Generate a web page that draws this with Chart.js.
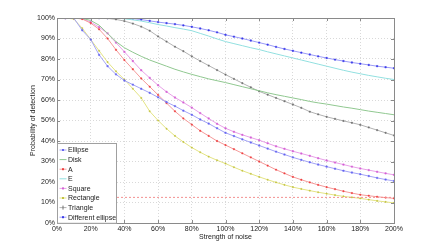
<!DOCTYPE html>
<html>
<head>
<meta charset="utf-8">
<script src="https://cdn.jsdelivr.net/npm/chart.js@4"></script>
<style>
  html, body { margin: 0; padding: 0; background: #fff; }
  #wrap { width: 436px; height: 251px; }
</style>
</head>
<body>
<div id="wrap"><canvas id="noiseChart" width="436" height="251"></canvas></div>
<script>
// strength of noise (%), one point every 5%
const noiseLevels = [0, 5, 10, 15, 20, 25, 30, 35, 40, 45, 50, 55, 60, 65, 70, 75, 80, 85, 90, 95, 100,
    105, 110, 115, 120, 125, 130, 135, 140, 145, 150, 155, 160, 165, 170, 175, 180, 185, 190, 195, 200];

const seriesNames = ["Ellipse", "Disk", "A", "E", "Square", "Rectangle", "Triangle", "Different ellipse"];

const ellipse = [100, 100, 99.9, 94, 89.5, 82, 76.5, 72.5, 69.5, 67.5, 65.5, 63.5, 61.3, 59, 57, 54.8, 52.8, 50.5, 48.5, 46.2, 44,
    42.4, 40.8, 39.3, 37.8, 36.3, 34.8, 33.4, 32, 30.8, 29.6, 28.5, 27.5, 26.5, 25.5, 24.6, 23.8, 22.9, 22, 21.2, 20.5];
const disk = [100, 100, 100, 99.8, 98.8, 96.5, 92.5, 88.5, 85.5, 83.3, 81.3, 79.5, 78, 76.5, 75, 73.7, 72.5, 71.4, 70.3, 69.4, 68.5,
    67.5, 66.5, 65.5, 64.5, 63.5, 62.6, 61.8, 61, 60.2, 59.3, 58.6, 58, 57.3, 56.6, 56, 55.3, 54.6, 54, 53.4, 52.8];
const letterA = [100, 100, 100, 99.5, 97.5, 94.5, 90, 84.5, 79.5, 75, 70.5, 66.5, 62.5, 58.5, 54.5, 51, 48, 45, 42.5, 40, 38,
    36, 34, 32, 30, 28, 26, 24.2, 22.5, 21.1, 19.8, 18.6, 17.5, 16.5, 15.5, 14.6, 13.8, 13.3, 12.8, 12.4, 12];
const letterE = [100, 100, 100, 100, 100, 100, 100, 100, 99.6, 99.1, 98.5, 97.7, 96.8, 96.1, 95.3, 94.6, 93.8, 92.5, 91.2, 89.8, 88.5,
    87.5, 86.5, 85.5, 84.6, 83.5, 82.5, 81.5, 80.5, 79.5, 78.5, 77.5, 76.5, 75.5, 74.5, 73.6, 72.8, 72, 71.3, 70.6, 70];
const square = [100, 100, 100, 99.7, 98, 95.5, 92.5, 88, 83.5, 79, 74.5, 70.8, 67.2, 64, 61.2, 58.8, 56.3, 53.6, 51, 48.4, 46.2,
    44.5, 43, 41.7, 40.4, 38.9, 37.4, 36.2, 35, 33.9, 32.8, 31.6, 30.5, 29.5, 28.5, 27.5, 26.6, 25.8, 25, 24.2, 23.5];
const rectangle = [100, 100, 99.5, 95, 89.5, 84, 78.5, 74, 70, 65.5, 61, 54.5, 50, 46, 42.5, 39.5, 36.8, 34.5, 32.4, 30.6, 29,
    27.2, 25.5, 24, 22.5, 21.1, 19.8, 18.6, 17.5, 16.6, 15.8, 15, 14.3, 13.6, 13, 12.5, 12, 11.4, 10.8, 10.3, 9.8];
const triangle = [100, 100, 100, 100, 100, 100, 99.8, 99.3, 98.5, 97.3, 95.8, 93.8, 91, 88.5, 86, 83.8, 81.3, 79, 76.8, 74.6, 72.4,
    70.3, 68.2, 66.2, 64.2, 62.6, 61, 59.4, 57.8, 56.2, 54.3, 53, 51.8, 50.8, 49.8, 48.9, 47.9, 46.6, 45.3, 44, 42.7];
const differentEllipse = [100, 100, 100, 100, 100, 100, 100, 100, 100, 99.7, 99.2, 98.6, 98, 97.5, 97, 96.4, 95.7, 94.9, 94, 93, 91.8,
    90.9, 90, 89, 88, 87, 85.9, 84.9, 84, 83.1, 82.2, 81.3, 80.5, 79.7, 79, 78.3, 77.7, 77.1, 76.5, 76, 75.5];

// chance level, dotted red line
const chanceLevel = 12.5;

const xTicks = [0, 20, 40, 60, 80, 100, 120, 140, 160, 180, 200];
const yTicks = [0, 10, 20, 30, 40, 50, 60, 70, 80, 90, 100];

const styles = [
    { line: "#a4a4f6", point: "#6666f0", shape: "rect", r: 1 },
    { line: "#90c890", point: "#90c890", shape: false, r: 0 },
    { line: "#f59a9a", point: "#ee4040", shape: "rect", r: 0.9 },
    { line: "#92e0e0", point: "#92e0e0", shape: false, r: 0 },
    { line: "#e8a0e8", point: "#d462d4", shape: "rect", r: 1 },
    { line: "#e4e484", point: "#c2c240", shape: "rect", r: 0.8 },
    { line: "#b2b2b2", point: "#707070", shape: "rect", r: 0.9 },
    { line: "#9c9cf8", point: "#3a3ae8", shape: "rect", r: 1 }
];

const values = [ellipse, disk, letterA, letterE, square, rectangle, triangle, differentEllipse];

const fontName = "'Liberation Sans', Arial, sans-serif";

const datasets = values.map((vals, i) => ({
    label: seriesNames[i],
    data: vals.map((v, k) => ({ x: noiseLevels[k], y: v })),
    borderColor: styles[i].line,
    backgroundColor: styles[i].point,
    pointBorderColor: styles[i].point,
    pointBackgroundColor: styles[i].point,
    pointStyle: styles[i].shape,
    pointRadius: styles[i].r,
    pointBorderWidth: 0.5,
    borderWidth: 1,
    tension: 0
}));

datasets.unshift({
    label: "chance",
    data: [{ x: noiseLevels[0], y: chanceLevel }, { x: noiseLevels[noiseLevels.length - 1], y: chanceLevel }],
    borderColor: "#f39090",
    borderWidth: 1,
    borderDash: [2, 2],
    pointRadius: 0
});

// box around the plot, inner tick marks, and the legend in the lower left corner
const framePlugin = {
    id: "frame",
    afterDatasetsDraw(chart) {
        const ctx = chart.ctx;
        const a = chart.chartArea;
        const xs = chart.scales.x;
        const ys = chart.scales.y;
        ctx.save();
        ctx.strokeStyle = "#8a8a8a";
        ctx.lineWidth = 1;
        ctx.beginPath();
        xTicks.forEach(t => {
            const px = Math.round(xs.getPixelForValue(t)) + 0.5;
            ctx.moveTo(px, a.bottom); ctx.lineTo(px, a.bottom - 3);
            ctx.moveTo(px, a.top); ctx.lineTo(px, a.top + 3);
        });
        yTicks.forEach(t => {
            const py = Math.round(ys.getPixelForValue(t)) + 0.5;
            ctx.moveTo(a.left, py); ctx.lineTo(a.left + 3, py);
            ctx.moveTo(a.right, py); ctx.lineTo(a.right - 3, py);
        });
        ctx.stroke();
        ctx.strokeRect(Math.round(a.left) + 0.5, Math.round(a.top) + 0.5,
            Math.round(a.right - a.left), Math.round(a.bottom - a.top));

        // legend
        const boxW = 59, rowH = 9.6;
        const boxH = rowH * seriesNames.length + 3;
        const bx = Math.round(a.left) + 0.5;
        const by = Math.round(a.bottom - boxH) + 0.5;
        ctx.fillStyle = "#fff";
        ctx.fillRect(bx, by, boxW, boxH);
        ctx.strokeStyle = "#a0a0a0";
        ctx.strokeRect(bx, by, boxW, boxH);
        ctx.font = "7px " + fontName;
        ctx.textBaseline = "middle";
        seriesNames.forEach((name, i) => {
            const cy = by + 6.5 + i * rowH;
            const st = styles[i];
            ctx.strokeStyle = st.line;
            ctx.beginPath();
            ctx.moveTo(bx + 2, cy); ctx.lineTo(bx + 9, cy);
            ctx.stroke();
            if (st.shape) {
                ctx.fillStyle = st.point;
                if (name === "Triangle") {
                    ctx.strokeStyle = st.point;
                    ctx.beginPath();
                    ctx.moveTo(bx + 5.5, cy - 2); ctx.lineTo(bx + 5.5, cy + 2);
                    ctx.stroke();
                } else {
                    ctx.fillRect(bx + 4.5, cy - 1, 2, 2);
                }
            }
            ctx.fillStyle = "#222";
            ctx.fillText(name, bx + 10.5, cy + 0.5);
        });
        ctx.restore();
    }
};

new Chart(document.getElementById("noiseChart"), {
    type: "line",
    data: { datasets: datasets },
    options: {
        responsive: false,
        animation: false,
        layout: { padding: { top: 18, right: 42, left: 0, bottom: 0 } },
        plugins: {
            legend: { display: false },
            tooltip: { enabled: false }
        },
        scales: {
            x: {
                type: "linear",
                min: 0,
                max: 200,
                afterFit: s => { s.height = 28; },
                afterBuildTicks: s => { s.ticks = xTicks.map(v => ({ value: v })); },
                ticks: {
                    font: { family: fontName, size: 7 },
                    color: "#222",
                    padding: 2,
                    maxRotation: 0,
                    callback: v => v + "%"
                },
                grid: { color: "#d9d9d9", drawTicks: false },
                border: { display: false, dash: [1, 2] },
                title: {
                    display: true,
                    text: "Strength of noise",
                    font: { family: fontName, size: 7 },
                    color: "#222",
                    padding: { top: 0, bottom: 9.5 }
                }
            },
            y: {
                min: 0,
                max: 100,
                afterFit: s => { s.width = 57; },
                afterBuildTicks: s => { s.ticks = yTicks.map(v => ({ value: v })); },
                ticks: {
                    font: { family: fontName, size: 7 },
                    color: "#222",
                    padding: 2,
                    callback: v => v + "%"
                },
                grid: { color: "#d9d9d9", drawTicks: false },
                border: { display: false, dash: [1, 2] },
                title: {
                    display: true,
                    text: "Probability of detection",
                    font: { family: fontName, size: 7 },
                    color: "#222",
                    padding: { top: 28.5, bottom: 0 }
                }
            }
        }
    },
    plugins: [framePlugin]
});
</script>
</body>
</html>
